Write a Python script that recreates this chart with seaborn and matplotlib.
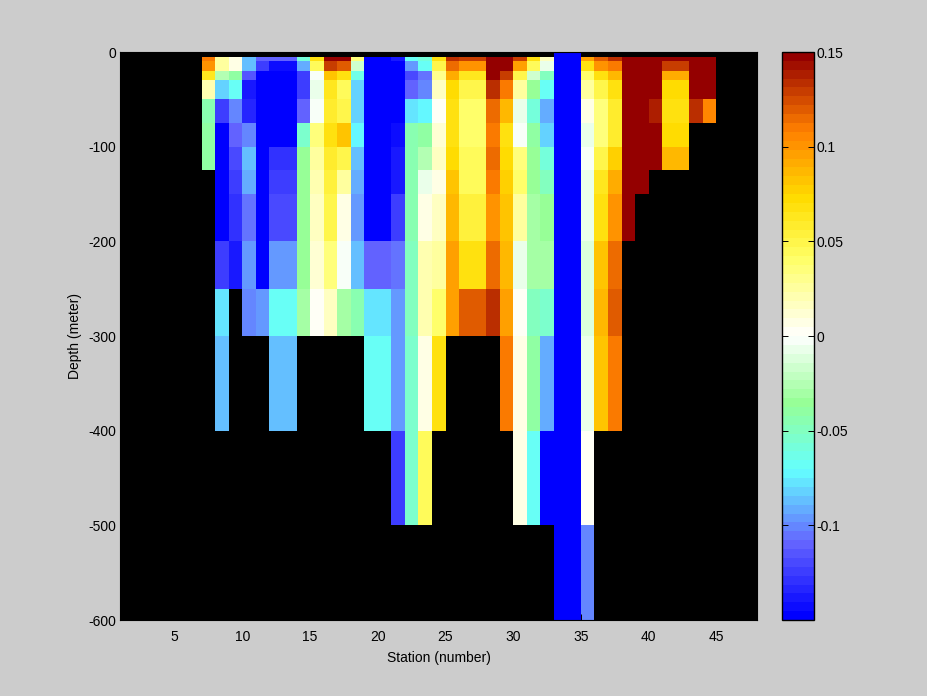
import numpy as np
import pandas as pd
import seaborn as sns
import matplotlib
matplotlib.use("Agg")
import matplotlib.pyplot as plt
from matplotlib.colors import LinearSegmentedColormap

plt.rcParams['font.family'] = ['Liberation Sans', 'DejaVu Sans']

N = float('nan')
depth_edges = [0, 5, 10, 20, 30, 50, 75, 100, 125, 150, 200, 250, 300, 400, 500, 600]

# values by depth row, top to bottom; missing trailing rows are empty
st07 = [N, .11, .10, .065, .02, -.045, -.04, -.04]
st08 = [N, .025, .025, -.027, -.08, -.125, -.15, -.15, -.15, -.15, -.125, -.078, -.085]
st09 = [N, .005, .005, -.038, -.07, -.1, -.108, -.118, -.122, -.13, -.14]
st10 = [N, -.085, -.085, -.115, -.14, -.135, -.1, -.085, -.09, -.107, -.095, -.102]
st11 = [N, -.108, -.125, -.15, -.15, -.15, -.15, -.15, -.15, -.15, -.15, -.095]
st12 = [N, -.108, -.145, -.15, -.15, -.15, -.15, -.13, -.125, -.118, -.095, -.07, -.085]
st13 = [N, -.108, -.145, -.15, -.15, -.15, -.15, -.13, -.125, -.118, -.095, -.07, -.085]
st14 = [N, -.058, -.09, -.125, -.125, -.112, -.055, -.037, -.037, -.037, -.037, -.03]
st15 = [N, .07, .045, -.003, -.008, -.002, .035, .025, .022, .015, .01, .002]
st16 = [N, .15, .13, .08, .065, .06, .07, .06, .055, .05, .037, .015]
st17 = [N, .15, .121, .067, .045, .05, .082, .05, .025, .008, -.003, -.03]
st18 = [N, .035, -.016, -.062, -.08, -.08, -.072, -.085, -.09, -.095, -.085, -.045]
st19 = [N, -.15, -.15, -.15, -.15, -.15, -.15, -.15, -.15, -.15, -.112, -.078, -.07]
st20 = [N, -.15, -.15, -.15, -.15, -.15, -.15, -.15, -.15, -.15, -.112, -.078, -.07]
st21 = [N, -.14, -.15, -.15, -.15, -.15, -.145, -.14, -.14, -.125, -.105, -.095, -.095, -.122]
st22 = [N, -.07, -.095, -.118, -.112, -.078, -.043, -.045, -.045, -.045, -.047, -.05, -.055, -.052]
st23 = [N, -.058, -.068, -.105, -.103, -.075, -.04, -.025, -.008, .008, .02, .02, .007, .045]
st24 = [N, .068, .05, .03, .018, .002, .012, .018, .005, .018, .025, .04, .07]
st25 = [N, .135, .114, .09, .073, .066, .066, .073, .08, .087, .095, .098]
st26 = [N, .128, .10, .065, .05, .038, .038, .043, .045, .055, .07, .121]
st27 = [N, .128, .10, .065, .05, .038, .038, .043, .045, .055, .07, .121]
st28 = [N, .15, .15, .15, .135, .114, .11, .114, .11, .103, .114, .135]
st29 = [N, .15, .15, .13, .11, .085, .07, .073, .077, .08, .085, .095, .11]
st30 = [N, .128, .095, .05, .028, -.008, -.001, .033, .04, .024, -.008, .003, .007, .007]
st31 = [N, .067, .045, -.016, -.036, -.06, -.04, -.036, -.034, -.03, -.032, -.05, -.04, -.07]
st32 = [N, .017, -.008, -.048, -.07, -.09, -.08, -.058, -.047, -.036, -.032, -.055, -.09, -.15]
st33 = [-.15] * 15
st34 = [-.15] * 15
st35 = [N, .095, .068, .04, .025, .008, -.005, -.002, -.008, -.008, -.014, -.014, -.008, .002, -.1]
st36 = [N, .121, .10, .067, .05, .037, .037, .05, .062, .068, .08, .087, .08]
st37 = [N, .135, .11, .085, .068, .06, .06, .075, .09, .10, .114, .121, .11]
st38 = [N, .15, .15, .15, .15, .15, .15, .15, .15, .15]
st39 = [N, .15, .15, .15, .15, .15, .15, .15, .15]
st40 = [N, .15, .15, .15, .15, .14, .15, .15]
st41 = [N, .15, .128, .09, .073, .07, .073, .085]
st42 = [N, .15, .128, .09, .073, .07, .073, .085]
st43 = [N, .15, .15, .15, .15, .135]
st44 = [N, .15, .15, .15, .15, .107]

stations = {7: st07, 8: st08, 9: st09, 10: st10, 11: st11, 12: st12, 13: st13, 14: st14,
            15: st15, 16: st16, 17: st17, 18: st18, 19: st19, 20: st20, 21: st21, 22: st22,
            23: st23, 24: st24, 25: st25, 26: st26, 27: st27, 28: st28, 29: st29, 30: st30,
            31: st31, 32: st32, 33: st33, 34: st34, 35: st35, 36: st36, 37: st37, 38: st38,
            39: st39, 40: st40, 41: st41, 42: st42, 43: st43, 44: st44}

x_ticks = [5, 10, 15, 20, 25, 30, 35, 40, 45]
y_ticks = [0, 100, 200, 300, 400, 500, 600]
y_tick_labels = ['0', '-100', '-200', '-300', '-400', '-500', '-600']
cbar_ticks = [-0.1, -0.05, 0, 0.05, 0.1, 0.15]
cbar_tick_labels = ['-0.1', '-0.05', '0', '0.05', '0.1', '0.15']

# table on a regular 5 m grid, so that heatmap cells follow the uneven depth bins
n_rows = len(depth_edges) - 1
table = pd.DataFrame(np.nan, index=range(n_rows), columns=range(1, 48))
for s, vals in stations.items():
    table.loc[:len(vals) - 1, s] = vals
repeats = np.diff(depth_edges) // 5
fine = table.loc[table.index.repeat(repeats)].reset_index(drop=True)

cmap = LinearSegmentedColormap.from_list('bwr_jet', [
    (0.0, (0, 0, 1)),
    ((-.111 + .15) / .3, (100 / 255, 100 / 255, 1)),
    ((-.072 + .15) / .3, (100 / 255, 1, 1)),
    ((-.036 + .15) / .3, (150 / 255, 1, 150 / 255)),
    (0.5, (1, 1, 1)),
    ((.042 + .15) / .3, (1, 1, 100 / 255)),
    ((.074 + .15) / .3, (1, 220 / 255, 0)),
    ((.11 + .15) / .3, (1, 128 / 255, 0)),
    (1.0, (148 / 255, 0, 0)),
], N=64)

W, H = 928, 696
fig = plt.figure(figsize=(W / 100, H / 100), dpi=100, facecolor='#CCCCCC')
ax = fig.add_axes([120.5 / W, 1 - 620 / H, 636.5 / W, 568 / H], facecolor='black')
cax = fig.add_axes([782 / W, 1 - 620 / H, 32 / W, 568 / H])

sns.heatmap(fine, ax=ax, cbar_ax=cax, cmap=cmap, vmin=-.15, vmax=.15,
            xticklabels=False, yticklabels=False,
            cbar_kws={'ticks': cbar_ticks})

ax.set_xticks([s - 1 for s in x_ticks])
ax.set_xticklabels([str(s) for s in x_ticks], rotation=0)
ax.set_yticks([d / 5 for d in y_ticks])
ax.set_yticklabels(y_tick_labels, rotation=0)
ax.tick_params(axis='both', direction='in', length=4, width=0.7, color='black', labelsize=10)
ax.tick_params(axis='x', pad=7.5)
ax.tick_params(axis='y', pad=3)
ax.set_xlabel('Station (number)', fontsize=10, labelpad=4.5)
ax.set_ylabel('Depth (meter)', fontsize=10, labelpad=4.5)
for sp in ax.spines.values():
    sp.set_visible(True)
    sp.set_color('black')

cb = ax.collections[0].colorbar
cb.outline.set_visible(True)
cb.outline.set_edgecolor('black')
cb.outline.set_linewidth(1.0)
cb.set_ticks(cbar_ticks)
cb.set_ticklabels(cbar_tick_labels)
cax.tick_params(which='both', direction='in', left=True, right=True, length=4, width=0.7,
                labelsize=10, pad=2)

fig.savefig('out.png', dpi=100, facecolor=fig.get_facecolor())
